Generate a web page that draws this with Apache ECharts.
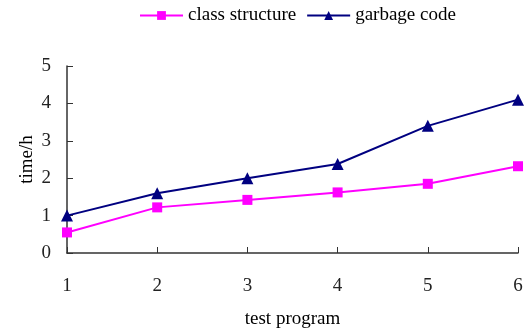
<!DOCTYPE html>
<html>
<head>
<meta charset="utf-8">
<script src="https://cdn.jsdelivr.net/npm/echarts@6/dist/echarts.min.js"></script>
<style>
  html, body { margin: 0; padding: 0; background: #fff; }
  #main { width: 526px; height: 331px; }
</style>
</head>
<body>
<div id="main"></div>
<script>
// 测试程序编号
var programs = ['1', '2', '3', '4', '5', '6'];
var classStructure = [0.55, 1.22, 1.42, 1.62, 1.85, 2.32];
var garbageCode = [1.0, 1.6, 2.0, 2.38, 3.4, 4.1];

var chart = echarts.init(document.getElementById('main'));
var font = 'Liberation Serif';

var option = {
  animation: false,
  textStyle: { fontFamily: font },
  legend: {
    top: 1,
    left: 134,
    itemWidth: 43,
    itemHeight: 11,
    itemGap: 10,
    textStyle: { fontFamily: font, fontSize: 19, color: '#000' },
    data: ['class structure', 'garbage code']
  },
  grid: { left: 67, right: 8, top: 66, bottom: 78, outerBoundsMode: 'none', containLabel: false },
  xAxis: {
    type: 'category',
    boundaryGap: false,
    data: programs,
    name: 'test program',
    nameLocation: 'middle',
    nameGap: 57,
    nameMoveOverlap: false,
    nameTextStyle: { fontFamily: font, fontSize: 19, color: '#000' },
    axisLine: { lineStyle: { color: '#333', width: 1.5 } },
    axisTick: { inside: true, length: 6, lineStyle: { color: '#333' } },
    axisLabel: { fontFamily: font, fontSize: 19, color: '#222', margin: 24 },
    splitLine: { show: false }
  },
  yAxis: {
    type: 'value',
    min: 0,
    max: 5,
    interval: 1,
    name: 'time/h',
    nameLocation: 'middle',
    nameGap: 30,
    nameMoveOverlap: false,
    nameTextStyle: { fontFamily: font, fontSize: 19, color: '#000' },
    axisLine: { show: true, lineStyle: { color: '#333', width: 1.5 } },
    axisTick: { show: true, inside: true, length: 6, lineStyle: { color: '#333' } },
    axisLabel: { fontFamily: font, fontSize: 19, color: '#222', margin: 16 },
    splitLine: { show: false }
  },
  series: [
    {
      name: 'class structure',
      type: 'line',
      data: classStructure,
      symbol: 'rect',
      symbolSize: 10,
      itemStyle: { color: '#ff00ff' },
      lineStyle: { color: '#ff00ff', width: 2 }
    },
    {
      name: 'garbage code',
      type: 'line',
      data: garbageCode,
      symbol: 'triangle',
      symbolSize: 12,
      itemStyle: { color: '#000080' },
      lineStyle: { color: '#000080', width: 2 }
    }
  ]
};

chart.setOption(option);
</script>
</body>
</html>
